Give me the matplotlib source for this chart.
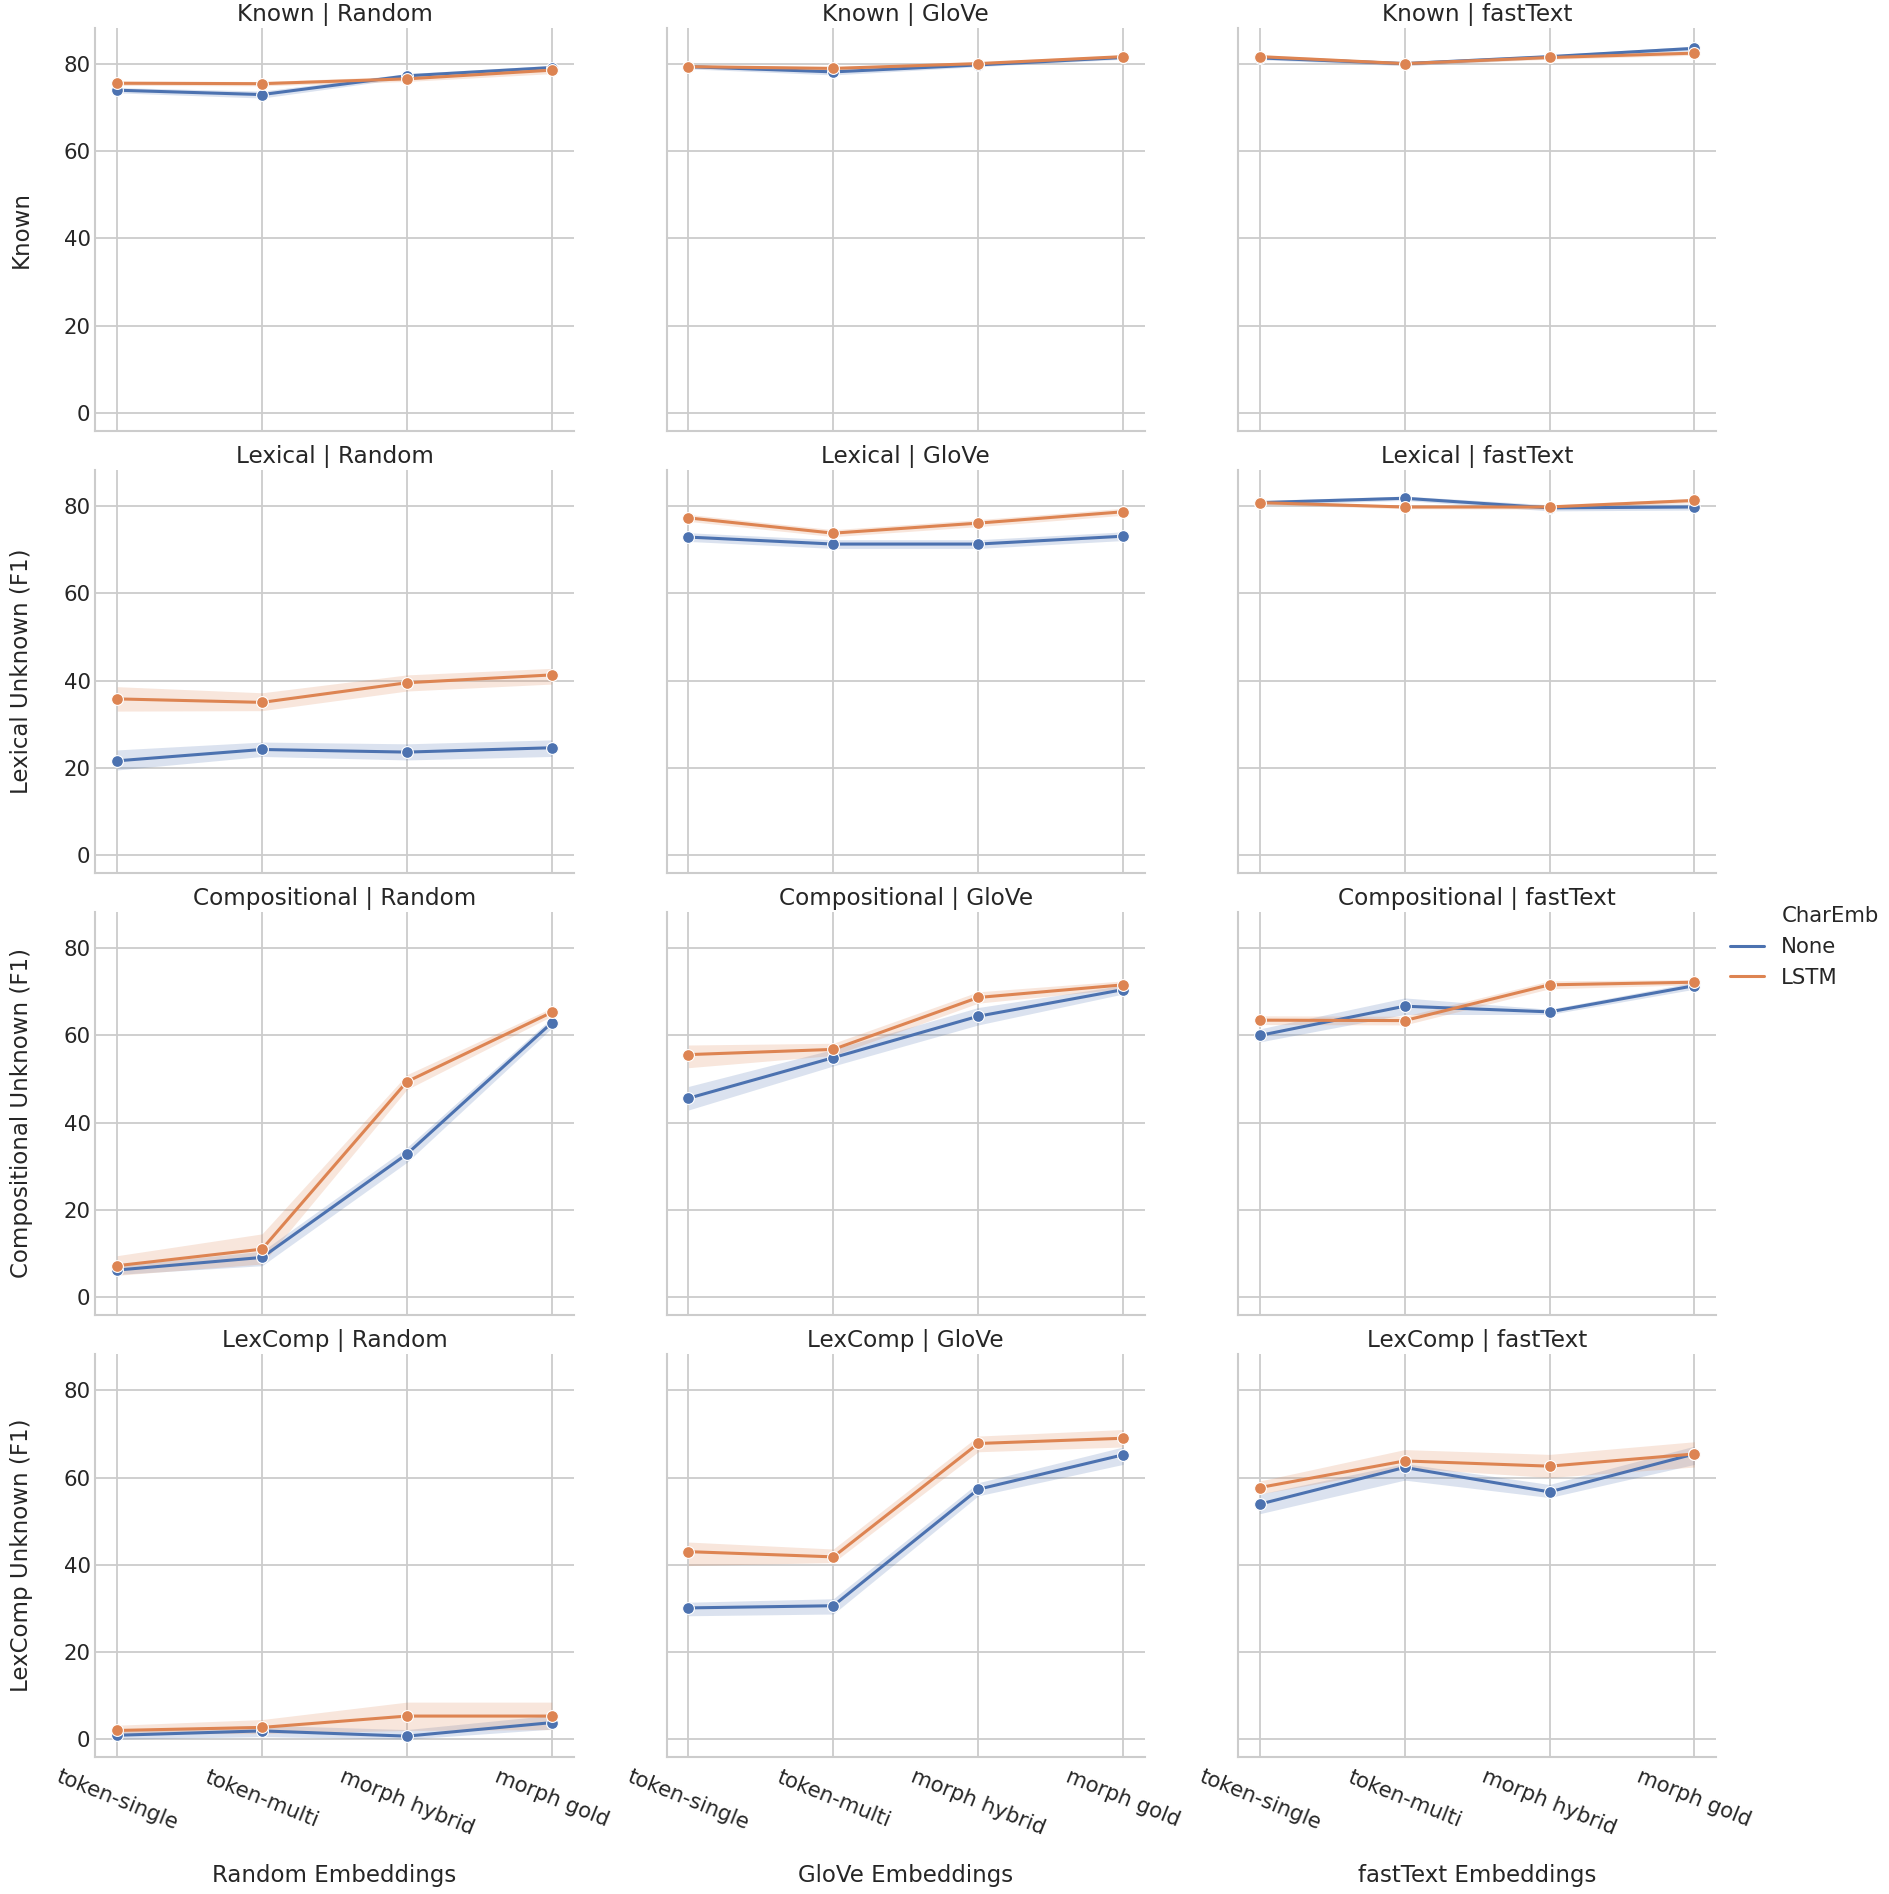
import matplotlib
matplotlib.use("Agg")
import matplotlib.pyplot as plt
from matplotlib.lines import Line2D
import seaborn as sns

sns.set_theme(style="whitegrid")
plt.rcParams['font.family'] = ['DejaVu Sans']

segmentations = ["token-single", "token-multi", "morph hybrid", "morph gold"]
embeddings = ["Random", "GloVe", "fastText"]
metrics = ["Known", "Lexical", "Compositional", "LexComp"]
ylabels = ["Known", "Lexical Unknown (F1)", "Compositional Unknown (F1)", "LexComp Unknown (F1)"]
hues = ["None", "LSTM"]

# mean scores, one row per embedding (Random, GloVe, fastText)
known_none = [[74.0, 73.0, 77.3, 79.2], [79.4, 78.2, 79.8, 81.5], [81.4, 80.1, 81.7, 83.6]]
known_none_lo = [[73.4, 72.2, 76.8, 78.7], [78.9, 77.5, 79.4, 81.1], [81.0, 79.6, 81.3, 83.1]]
known_none_hi = [[74.6, 73.8, 77.8, 79.7], [79.9, 78.9, 80.2, 81.9], [81.8, 80.6, 82.1, 84.1]]
known_lstm = [[75.6, 75.5, 76.6, 78.6], [79.4, 79.0, 80.1, 81.7], [81.7, 80.1, 81.5, 82.5]]
known_lstm_lo = [[75.1, 75.0, 76.0, 77.8], [79.0, 78.6, 79.7, 81.3], [81.3, 79.7, 81.1, 82.0]]
known_lstm_hi = [[76.1, 76.0, 77.2, 79.4], [79.8, 79.4, 80.5, 82.1], [82.1, 80.5, 81.9, 83.0]]

lexical_none = [[21.6, 24.2, 23.6, 24.6], [72.9, 71.3, 71.3, 73.1], [80.8, 81.8, 79.6, 79.8]]
lexical_none_lo = [[19.5, 22.6, 21.8, 22.6], [71.9, 70.3, 70.3, 72.1], [80.3, 81.3, 78.9, 79.1]]
lexical_none_hi = [[24.1, 25.9, 25.5, 26.4], [73.9, 72.3, 72.3, 74.1], [81.3, 82.3, 80.3, 80.5]]
lexical_lstm = [[35.8, 35.0, 39.5, 41.3], [77.3, 73.8, 76.1, 78.7], [80.8, 79.8, 79.8, 81.3]]
lexical_lstm_lo = [[33.0, 33.1, 37.6, 39.2], [76.5, 73.0, 75.3, 77.9], [80.4, 79.4, 79.3, 80.8]]
lexical_lstm_hi = [[38.6, 37.2, 41.3, 42.8], [78.1, 74.6, 76.9, 79.5], [81.2, 80.2, 80.3, 81.8]]

comp_none = [[6.2, 9.1, 32.8, 62.9], [45.6, 54.9, 64.4, 70.5], [60.0, 66.7, 65.4, 71.4]]
comp_none_lo = [[5.2, 7.2, 30.9, 61.7], [42.9, 53.0, 62.4, 69.5], [58.5, 64.8, 64.8, 70.6]]
comp_none_hi = [[7.2, 10.5, 34.3, 64.0], [48.3, 56.8, 66.4, 71.5], [61.5, 68.6, 66.0, 72.2]]
comp_lstm = [[7.2, 11.0, 49.4, 65.3], [55.6, 56.8, 68.7, 71.6], [63.5, 63.4, 71.6, 72.2]]
comp_lstm_lo = [[5.0, 7.6, 47.6, 64.4], [52.6, 55.4, 67.4, 70.7], [62.5, 62.4, 70.7, 71.6]]
comp_lstm_hi = [[9.5, 14.5, 51.0, 66.3], [57.8, 58.2, 70.0, 72.5], [64.5, 64.4, 72.5, 72.8]]

lexcomp_none = [[0.9, 1.9, 0.7, 3.8], [30.1, 30.6, 57.3, 65.2], [53.9, 62.3, 56.7, 65.4]]
lexcomp_none_lo = [[0.0, 0.6, 0.0, 2.3], [28.3, 28.7, 55.8, 63.0], [51.7, 59.4, 55.4, 63.0]]
lexcomp_none_hi = [[1.8, 3.2, 2.2, 5.5], [31.4, 32.2, 58.8, 67.0], [56.2, 63.2, 58.4, 67.2]]
lexcomp_lstm = [[2.0, 2.7, 5.3, 5.3], [43.0, 41.8, 67.8, 69.0], [57.7, 63.8, 62.6, 65.4]]
lexcomp_lstm_lo = [[1.2, 1.3, 2.0, 2.2], [39.8, 40.5, 65.9, 67.0], [56.2, 62.2, 60.0, 62.4]]
lexcomp_lstm_hi = [[3.2, 4.5, 8.5, 8.5], [45.2, 43.6, 69.5, 71.0], [59.2, 66.4, 65.3, 68.2]]

series = {
    "Known": [(known_none, known_none_lo, known_none_hi), (known_lstm, known_lstm_lo, known_lstm_hi)],
    "Lexical": [(lexical_none, lexical_none_lo, lexical_none_hi), (lexical_lstm, lexical_lstm_lo, lexical_lstm_hi)],
    "Compositional": [(comp_none, comp_none_lo, comp_none_hi), (comp_lstm, comp_lstm_lo, comp_lstm_hi)],
    "LexComp": [(lexcomp_none, lexcomp_none_lo, lexcomp_none_hi), (lexcomp_lstm, lexcomp_lstm_lo, lexcomp_lstm_hi)],
}

colors = sns.color_palette("deep")[:2]
text_color = "#262626"

fig, axes = plt.subplots(4, 3, figsize=(18.9, 18.94), dpi=100, sharex=True, sharey=True)
fig.subplots_adjust(left=0.0505, right=0.908, bottom=0.0723, top=0.9853, wspace=0.195, hspace=0.097)

x = list(range(len(segmentations)))
for r, metric in enumerate(metrics):
    for c, emb in enumerate(embeddings):
        ax = axes[r, c]
        for h, (mean, lo, hi) in enumerate(series[metric]):
            ax.fill_between(x, lo[c], hi[c], color=colors[h], alpha=0.2, linewidth=0)
            ax.plot(x, mean[c], color=colors[h], lw=2.2, marker="o", ms=8.5,
                    mec="white", mew=0.8)
        ax.set_title(f"{metric} | {emb}", fontsize=16.7, color=text_color, pad=5)
        ax.grid(True, color="#cccccc", lw=1.3)
        for s in ["top", "right"]:
            ax.spines[s].set_visible(False)
        for s in ["left", "bottom"]:
            ax.spines[s].set_color("#cccccc")
            ax.spines[s].set_linewidth(1.5)
        ax.tick_params(axis="both", labelsize=15.3, colors=text_color, length=0)
        if c == 0:
            ax.set_ylabel(ylabels[r], fontsize=16.5, color=text_color, labelpad=22)
        if r == 3:
            ax.set_xlabel(f"{emb} Embeddings", fontsize=16.5, color=text_color, labelpad=18)

axes[0, 0].set_xlim(-0.15, 3.15)
axes[0, 0].set_ylim(-4.1, 88.3)
axes[0, 0].set_yticks([0, 20, 40, 60, 80])
axes[0, 0].set_xticks(x)
for ax in axes[3]:
    ax.set_xticklabels(segmentations, rotation=-22, ha="center", rotation_mode="default")
    ax.tick_params(axis="x", pad=7)

handles = [Line2D([], [], color="none")] + [Line2D([], [], color=col, lw=2.2) for col in colors]
labels = ["CharEmb"] + hues
fig.legend(handles, labels, loc="center left", bbox_to_anchor=(0.911, 0.5), frameon=False,
           fontsize=15.3, handlelength=1.6, borderaxespad=0, labelcolor=text_color)

fig.savefig("out.png", dpi=100)
